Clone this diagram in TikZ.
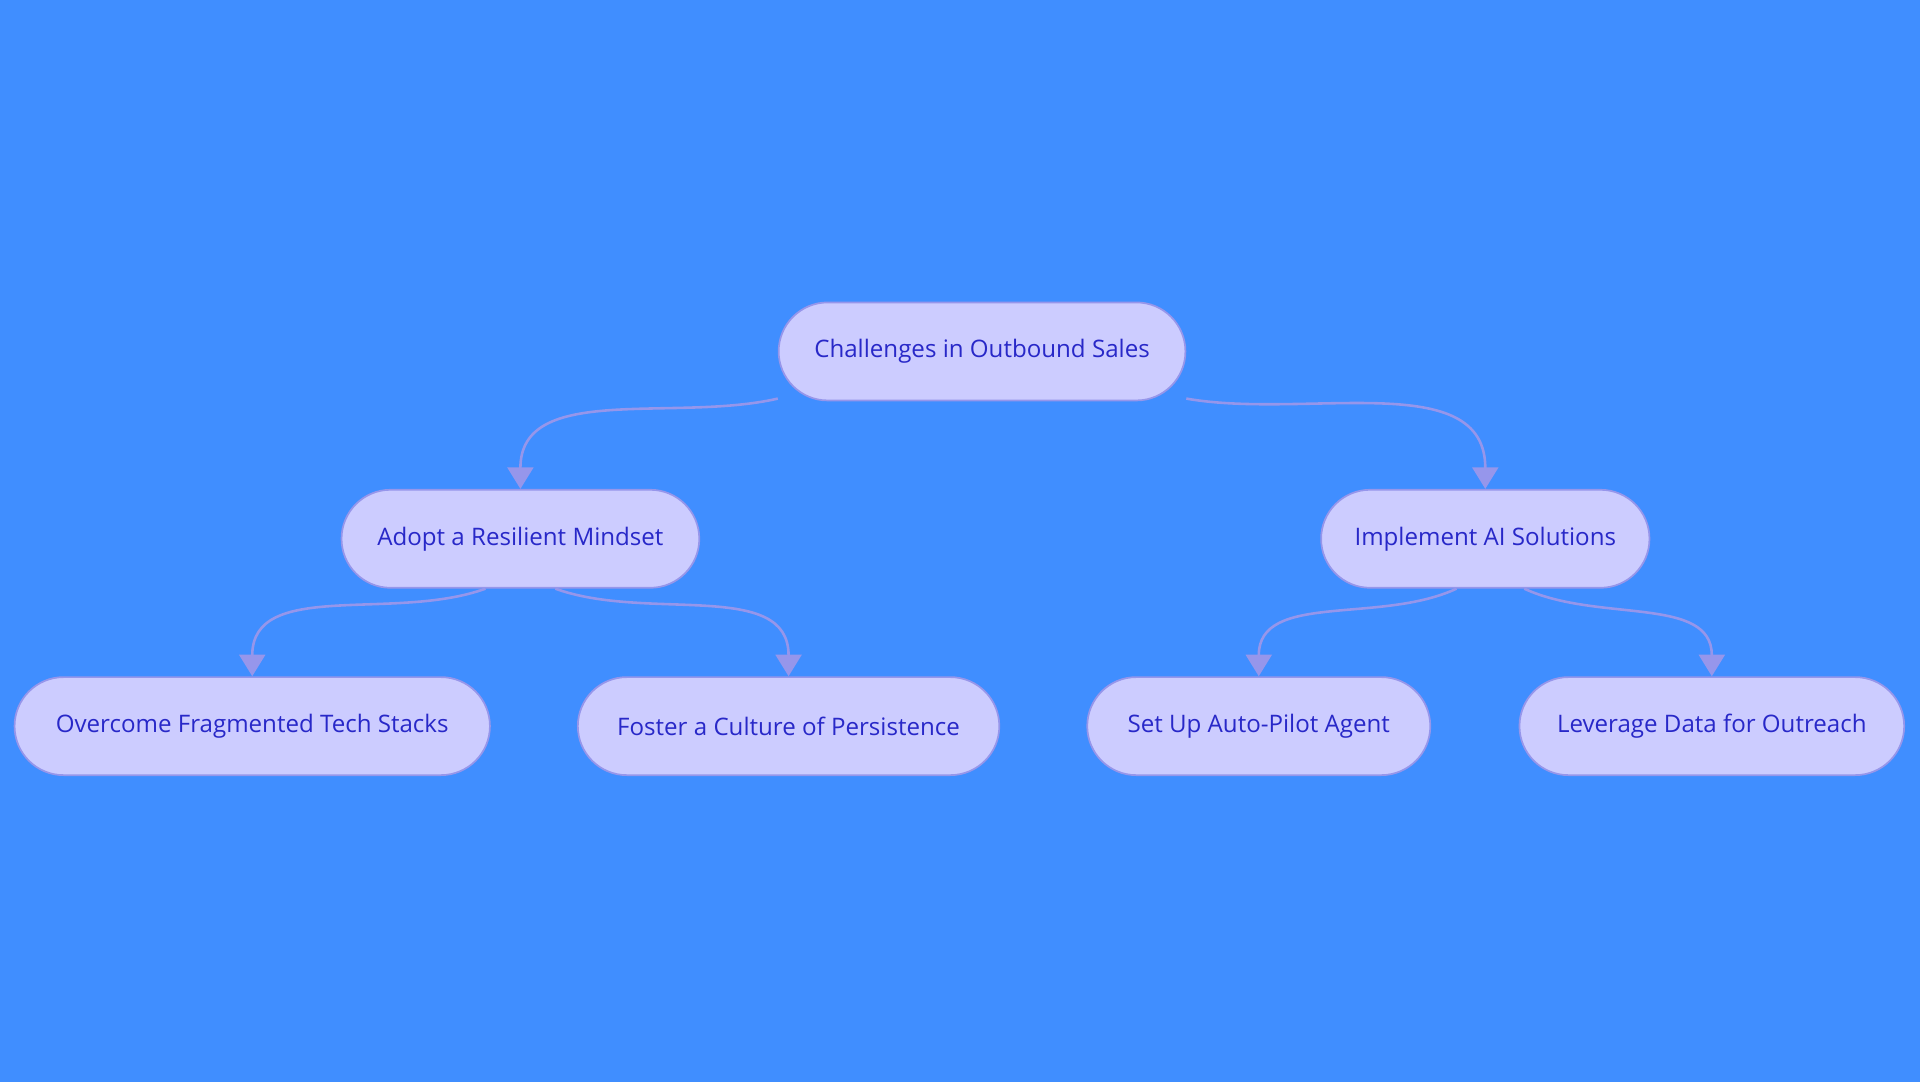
\documentclass[tikz,border=0pt]{standalone}
\usepackage{fontspec}
\setmainfont{Open Sans}
\usetikzlibrary{arrows.meta}
\definecolor{bgblue}{RGB}{64,142,255}
\definecolor{boxfill}{RGB}{204,204,255}
\definecolor{boxline}{RGB}{150,150,235}
\definecolor{boxtext}{RGB}{40,40,200}
\begin{document}
\begin{tikzpicture}[x=0.01cm,y=-0.01cm]
	\tikzstyle{BOX} = [draw=boxline, fill=boxfill, text=boxtext, rounded corners=0.4cm, minimum height=0.8cm, font=\fontsize{5.6}{7}\selectfont, inner sep=0pt]
	\tikzstyle{LINK} = [draw=boxline, line width=0.6pt, -{Triangle[length=5pt,width=6pt]}]
	
	\fill[bgblue] (0,0) rectangle (1568,884);
	\useasboundingbox (0,0) rectangle (1568,884);
	
	\node[BOX, minimum width=3.32cm] (CHAL) at (802,287) {Challenges in Outbound Sales};
	\node[BOX, minimum width=2.92cm] (MIND) at (425,440) {Adopt a Resilient Mindset};
	\node[BOX, minimum width=2.68cm] (AI) at (1213,440) {Implement AI Solutions};
	\node[BOX, minimum width=3.88cm] (TECH) at (206,593) {Overcome Fragmented Tech Stacks};
	\node[BOX, minimum width=3.44cm] (PERS) at (644,593) {Foster a Culture of Persistence};
	\node[BOX, minimum width=2.80cm] (AGENT) at (1028,593) {Set Up Auto-Pilot Agent};
	\node[BOX, minimum width=3.14cm] (DATA) at (1398,593) {Leverage Data for Outreach};
	
	\draw[LINK] (CHAL.193) to[out=193, in=90] (MIND.north);
	\draw[LINK] (CHAL.-13) to[out=-10, in=90] (AI.north);
	\draw[LINK] (MIND.-125) to[out=200, in=90] (TECH.north);
	\draw[LINK] (MIND.-55) to[out=-20, in=90] (PERS.north);
	\draw[LINK] (AI.-120) to[out=205, in=90] (AGENT.north);
	\draw[LINK] (AI.-52) to[out=-25, in=90] (DATA.north);
\end{tikzpicture}
\end{document}
